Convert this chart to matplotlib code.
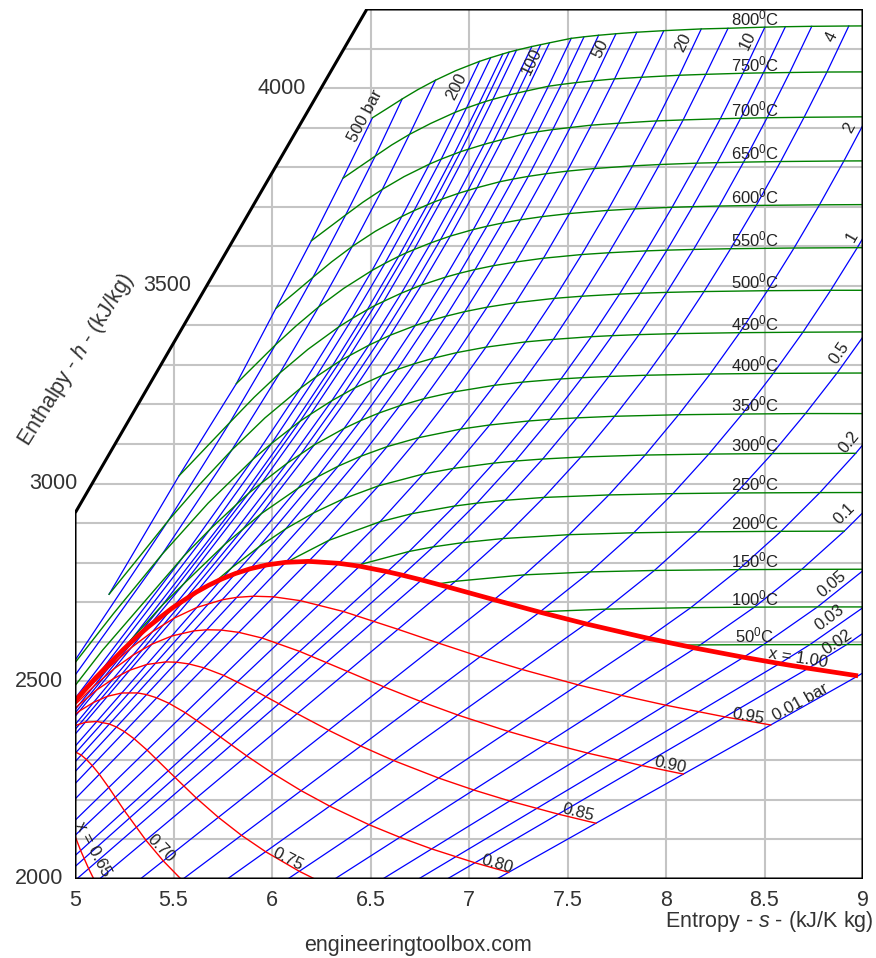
import numpy as np
import matplotlib
matplotlib.use("Agg")
import matplotlib.pyplot as plt
from matplotlib.patches import Polygon

plt.rcParams['font.family'] = ['Liberation Sans', 'DejaVu Sans']
plt.rcParams['mathtext.fontset'] = 'custom'
plt.rcParams['mathtext.rm'] = 'Liberation Sans'
plt.rcParams['mathtext.it'] = 'Liberation Sans:italic'

N = None

# ---------------- data ----------------
TEMPS_C = [50, 100, 150, 200, 250, 300, 350, 400, 450, 500, 550, 600, 650, 700, 750, 800]

# saturation table by pressure (bar): liquid & vapour entropy / enthalpy
P_SAT_BAR = [0.01, 0.02, 0.03, 0.05, 0.1, 0.2, 0.5, 1, 2, 4, 6, 8, 10, 15, 20, 30, 40,
             50, 60, 70, 80, 90, 100, 110, 120, 140, 150, 160, 180, 200]
S_LIQ = [0.1059, 0.2606, 0.3543, 0.4763, 0.6492, 0.8320, 1.0912, 1.3028, 1.5302, 1.7765,
         1.9308, 2.0457, 2.1381, 2.3143, 2.4468, 2.6455, 2.7966, 2.9207, 3.0275, 3.1220,
         3.2077, 3.2866, 3.3603, 3.4287, 3.4970, 3.6241, 3.6848, 3.7463, 3.8722, 4.0146]
H_LIQ = [29.3, 73.4, 101.0, 137.7, 191.8, 251.4, 340.5, 417.4, 504.7, 604.7, 670.4, 721.0,
         762.5, 844.6, 908.5, 1008.3, 1087.4, 1154.5, 1213.9, 1267.5, 1317.1, 1363.7,
         1408.1, 1449.9, 1491.8, 1571.9, 1610.3, 1650.4, 1734.8, 1826.6]
S_VAP = [8.9749, 8.7226, 8.5764, 8.3939, 8.1488, 7.9072, 7.5931, 7.3589, 7.1270, 6.8955,
         6.7593, 6.6616, 6.5850, 6.4448, 6.3390, 6.1856, 6.0696, 5.9737, 5.8902, 5.8148,
         5.7450, 5.6791, 5.6159, 5.5549, 5.4939, 5.3727, 5.3108, 5.2463, 5.1061, 4.9310]
H_VAP = [2513.7, 2532.9, 2544.8, 2560.7, 2583.9, 2608.9, 2645.2, 2674.9, 2706.3, 2738.1,
         2756.2, 2768.3, 2777.1, 2791.0, 2798.3, 2803.2, 2800.8, 2794.2, 2784.6, 2772.6,
         2758.7, 2742.9, 2725.5, 2705.5, 2685.4, 2638.1, 2610.8, 2580.8, 2509.5, 2411.4]

# saturated vapour at the isotherm temperatures
T_SAT_C = [50, 100, 150, 200, 250, 300, 350]
S_VAP_T = [8.0748, 7.3542, 6.8371, 6.4302, 6.0730, 5.7059, 5.2112]
H_VAP_T = [2591.3, 2675.6, 2745.9, 2792.0, 2801.0, 2749.0, 2563.6]

# superheated region: isobars (rows) x isotherms (columns)
P_BAR = [0.01, 0.02, 0.03, 0.05, 0.1, 0.2, 0.5, 1, 2, 4, 6, 8, 10, 15, 20, 30, 40, 50, 60,
         70, 80, 100, 110, 120, 140, 150, 160, 180, 200, 300, 400, 500]
S_SH = [
    [9.237, N, N, N, N, N, N, N, N, N, N, N, N, N, N, N],
    [8.917, 9.192, N, N, N, N, N, N, N, N, N, N, N, N, N, N],
    [8.730, 9.005, N, N, N, N, N, N, N, N, N, N, N, N, N, N],
    [8.494, 8.769, 9.009, N, N, N, N, N, N, N, N, N, N, N, N, N],
    [8.174, 8.449, 8.689, 8.905, 9.102, N, N, N, N, N, N, N, N, N, N, N],
    [N, 8.126, 8.368, 8.584, 8.781, 8.963, 9.131, 9.291, N, N, N, N, N, N, N, N],
    [N, 7.695, 7.941, 8.159, 8.357, 8.539, 8.708, 8.868, 9.018, 9.159, 9.293, N, N, N, N, N],
    [N, 7.361, 7.615, 7.836, 8.035, 8.217, 8.387, 8.545, 8.695, 8.836, 8.971, 9.100, 9.224, N, N, N],
    [N, N, 7.281, 7.508, 7.710, 7.894, 8.064, 8.224, 8.374, 8.515, 8.650, 8.779, 8.903, 9.022, 9.137, 9.248],
    [N, N, 6.931, 7.172, 7.380, 7.568, 7.739, 7.900, 8.052, 8.193, 8.328, 8.458, 8.582, 8.701, 8.817, 8.928],
    [N, N, N, 6.968, 7.183, 7.374, 7.548, 7.710, 7.863, 8.004, 8.140, 8.270, 8.394, 8.513, 8.628, 8.740],
    [N, N, N, 6.818, 7.040, 7.235, 7.411, 7.574, 7.727, 7.869, 8.005, 8.135, 8.260, 8.379, 8.494, 8.606],
    [N, N, N, 6.696, 6.927, 7.125, 7.303, 7.467, 7.621, 7.764, 7.900, 8.031, 8.156, 8.276, 8.391, 8.502],
    [N, N, N, 6.454, 6.711, 6.920, 7.105, 7.272, 7.428, 7.573, 7.710, 7.842, 7.967, 8.087, 8.202, 8.315],
    [N, N, N, N, 6.548, 6.768, 6.958, 7.129, 7.287, 7.434, 7.572, 7.704, 7.830, 7.952, 8.068, 8.179],
    [N, N, N, N, 6.289, 6.541, 6.745, 6.924, 7.086, 7.236, 7.378, 7.510, 7.637, 7.759, 7.876, 7.989],
    [N, N, N, N, N, 6.364, 6.584, 6.771, 6.939, 7.092, 7.236, 7.371, 7.499, 7.621, 7.739, 7.852],
    [N, N, N, N, N, 6.211, 6.452, 6.648, 6.821, 6.978, 7.124, 7.261, 7.391, 7.514, 7.632, 7.746],
    [N, N, N, N, N, 6.070, 6.336, 6.543, 6.722, 6.883, 7.031, 7.169, 7.301, 7.425, 7.544, 7.658],
    [N, N, N, N, N, 5.934, 6.231, 6.450, 6.635, 6.800, 6.951, 7.091, 7.224, 7.349, 7.469, 7.584],
    [N, N, N, N, N, 5.794, 6.132, 6.366, 6.558, 6.727, 6.880, 7.022, 7.156, 7.282, 7.403, 7.519],
    [N, N, N, N, N, N, 5.946, 6.214, 6.422, 6.600, 6.759, 6.905, 7.041, 7.169, 7.291, 7.409],
    [N, N, N, N, N, N, 5.853, 6.146, 6.363, 6.546, 6.708, 6.856, 6.994, 7.123, 7.246, 7.364],
    [N, N, N, N, N, N, 5.760, 6.077, 6.304, 6.492, 6.657, 6.807, 6.946, 7.077, 7.201, 7.319],
    [N, N, N, N, N, N, 5.552, 5.947, 6.196, 6.395, 6.567, 6.721, 6.863, 6.996, 7.121, 7.241],
    [N, N, N, N, N, N, 5.444, 5.882, 6.143, 6.348, 6.523, 6.680, 6.823, 6.957, 7.083, 7.204],
    [N, N, N, N, N, N, 5.290, 5.818, 6.095, 6.306, 6.484, 6.643, 6.789, 6.924, 7.051, 7.172],
    [N, N, N, N, N, N, N, 5.687, 5.998, 6.223, 6.409, 6.573, 6.721, 6.859, 6.987, 7.110],
    [N, N, N, N, N, N, N, 5.553, 5.904, 6.145, 6.339, 6.508, 6.659, 6.799, 6.929, 7.053],
    [N, N, N, N, N, N, N, 4.476, 5.442, 5.796, 6.040, 6.237, 6.407, 6.560, 6.698, 6.830],
    [N, N, N, N, N, N, N, 4.115, 4.945, 5.474, 5.786, 6.017, 6.208, 6.374, 6.524, 6.661],
    [N, N, N, N, N, N, N, N, N, 5.173, 5.528, 5.819, 6.020, 6.200, 6.360, 6.510],
]
H_SH = [
    [2592.8, N, N, N, N, N, N, N, N, N, N, N, N, N, N, N],
    [2592.7, 2688.0, N, N, N, N, N, N, N, N, N, N, N, N, N, N],
    [2592.6, 2688.0, N, N, N, N, N, N, N, N, N, N, N, N, N, N],
    [2592.5, 2688.0, 2783.3, N, N, N, N, N, N, N, N, N, N, N, N, N],
    [2592.0, 2687.5, 2783.0, 2879.6, 2977.4, N, N, N, N, N, N, N, N, N, N, N],
    [N, 2686.2, 2782.3, 2879.2, 2977.1, 3076.5, 3176.8, 3279.8, N, N, N, N, N, N, N, N],
    [N, 2682.4, 2780.2, 2877.8, 2976.2, 3075.8, 3177.0, 3279.3, 3383.5, 3488.7, 3596.8, N, N, N, N, N],
    [N, 2675.8, 2776.6, 2875.5, 2974.5, 3074.5, 3175.8, 3278.6, 3382.7, 3488.7, 3596.4, 3705.6, 3816.4, N, N, N],
    [N, N, 2769.1, 2870.7, 2971.2, 3072.1, 3174.0, 3277.0, 3381.5, 3487.7, 3595.6, 3704.8, 3815.7, 3927.4, 4041.2, 4158.0],
    [N, N, 2752.8, 2860.9, 2964.9, 3067.1, 3170.1, 3273.9, 3379.1, 3485.5, 3593.8, 3703.3, 3814.3, 3926.2, 4040.6, 4157.0],
    [N, N, N, 2850.6, 2957.6, 3062.0, 3166.1, 3270.8, 3376.6, 3483.4, 3592.0, 3701.7, 3812.8, 3925.0, 4039.4, 4156.2],
    [N, N, N, 2839.8, 2950.4, 3056.9, 3162.2, 3267.7, 3374.0, 3481.3, 3590.2, 3700.1, 3811.5, 3923.7, 4038.5, 4155.2],
    [N, N, N, 2828.3, 2943.1, 3051.6, 3158.2, 3264.5, 3371.4, 3479.1, 3588.4, 3698.6, 3810.2, 3922.5, 4037.5, 4154.1],
    [N, N, N, 2796.0, 2923.9, 3038.2, 3148.1, 3256.5, 3364.5, 3473.7, 3583.6, 3694.6, 3806.7, 3919.5, 4034.8, 4151.3],
    [N, N, N, N, 2903.3, 3024.2, 3137.7, 3248.4, 3358.2, 3468.3, 3579.1, 3690.7, 3803.3, 3917.0, 4032.5, 4149.6],
    [N, N, N, N, 2856.5, 2994.3, 3116.1, 3231.7, 3344.9, 3457.2, 3569.8, 3682.8, 3796.6, 3911.2, 4027.4, 4145.2],
    [N, N, N, N, N, 2961.7, 3093.3, 3214.5, 3331.2, 3446.0, 3560.1, 3674.9, 3790.0, 3906.3, 4023.3, 4141.3],
    [N, N, N, N, N, 2925.7, 3069.3, 3196.7, 3317.2, 3434.7, 3550.9, 3666.9, 3783.4, 3900.3, 4018.4, 4137.4],
    [N, N, N, N, N, 2885.6, 3043.9, 3178.3, 3302.9, 3423.1, 3541.3, 3658.8, 3776.8, 3895.1, 4013.9, 4133.6],
    [N, N, N, N, N, 2839.9, 3016.9, 3159.2, 3288.3, 3411.4, 3531.6, 3650.6, 3770.0, 3889.6, 4009.3, 4129.7],
    [N, N, N, N, N, 2786.5, 2988.1, 3139.4, 3273.3, 3399.5, 3521.8, 3642.4, 3763.1, 3884.2, 4004.7, 4125.8],
    [N, N, N, N, N, N, 2924.0, 3097.5, 3242.4, 3375.1, 3502.0, 3625.8, 3748.1, 3870.0, 3992.6, 4114.5],
    [N, N, N, N, N, N, 2885.0, 3074.5, 3226.0, 3362.5, 3491.8, 3617.3, 3741.0, 3863.9, 3987.5, 4109.8],
    [N, N, N, N, N, N, 2846.1, 3051.5, 3209.7, 3349.9, 3481.6, 3608.8, 3733.8, 3857.7, 3982.3, 4105.1],
    [N, N, N, N, N, N, 2746.4, 3001.4, 3175.3, 3323.9, 3460.8, 3591.7, 3719.3, 3845.3, 3971.5, 4095.8],
    [N, N, N, N, N, N, 2692.9, 2975.7, 3157.9, 3310.8, 3450.4, 3583.1, 3712.1, 3839.1, 3966.0, 4091.1],
    [N, N, N, N, N, N, 2608.0, 2946.4, 3139.3, 3297.2, 3439.7, 3574.4, 3704.8, 3832.9, 3960.6, 4086.4],
    [N, N, N, N, N, N, N, 2885.3, 3101.5, 3269.6, 3418.1, 3556.8, 3690.1, 3820.4, 3949.6, 4076.9],
    [N, N, N, N, N, N, N, 2816.9, 3061.7, 3241.2, 3396.2, 3539.0, 3675.3, 3807.8, 3938.6, 4067.5],
    [N, N, N, N, N, N, N, 2152.8, 2821.0, 3084.8, 3279.7, 3446.7, 3599.4, 3743.9, 3883.0, 4020.0],
    [N, N, N, N, N, N, N, 1931.4, 2511.8, 2906.5, 3154.4, 3350.4, 3521.6, 3679.2, 3828.0, 3972.6],
    [N, N, N, N, N, N, N, N, N, 2720.1, 3019.5, 3252.6, 3443.0, 3614.0, 3772.0, 3925.0],
]

# extra isotherm points at pressures without a drawn isobar (250, 350, 450 bar)
ISO_EXTRA_P_BAR = [250, 350, 450]
ISO_EXTRA_S = [
    [N, N, N, N, N, N, N, 5.140, 5.676, 5.964, 6.182, 6.364, 6.524, 6.670, 6.805, 6.932],
    [N, N, N, N, N, N, N, 4.214, 5.195, 5.633, 5.909, 6.123, 6.303, 6.462, 6.607, 6.741],
    [N, N, N, N, N, N, N, N, 4.770, 5.324, 5.657, 5.918, 6.114, 6.287, 6.442, 6.586],
]
ISO_EXTRA_H = [
    [N, N, N, N, N, N, N, 2578.7, 2950.6, 3165.9, 3339.2, 3493.5, 3637.7, 3776.0, 3910.5, 4043.9],
    [N, N, N, N, N, N, N, 1988.6, 2671.0, 2997.9, 3218.0, 3398.9, 3560.7, 3711.6, 3856.0, 3996.3],
    [N, N, N, N, N, N, N, N, 2398.0, 2813.0, 3087.0, 3301.5, 3482.0, 3646.6, 3800.0, 3948.8],
]

# constant-quality (dryness fraction) lines in the wet region
Q_S = [
    [8.5315, 8.2995, 7.9980, 7.7738, 7.5534, 7.2680, 7.0561, 6.8472, 6.6396, 6.3627, 6.1444, 6.0086, 5.9060, 5.8211, 5.7471, 5.6181, 5.5031, 5.3941, 5.2853, 5.1713, 5.0444, 4.8852],
    [8.0880, 7.8764, 7.6021, 7.3988, 7.1997, 6.9429, 6.7533, 6.5673, 6.3836, 6.1403, 5.9498, 5.8316, 5.7423, 5.6684, 5.6039, 5.4913, 5.3903, 5.2942, 5.1978, 5.0963, 4.9827],
    [7.6446, 7.4533, 7.2063, 7.0239, 6.8459, 6.6178, 6.4505, 6.2875, 6.1277, 5.9180, 5.7552, 5.6546, 5.5787, 5.5158, 5.4608, 5.3644, 5.2776, 5.1944, 5.1104, 5.0213, 4.9210],
    [7.2011, 7.0302, 6.8104, 6.6489, 6.4922, 6.2927, 6.1477, 6.0076, 5.8717, 5.6956, 5.5606, 5.4776, 5.4150, 5.3631, 5.3177, 5.2375, 5.1648, 5.0945, 5.0230, 4.9463],
    [6.7577, 6.6071, 6.4145, 6.2739, 6.1384, 5.9676, 5.8449, 5.7278, 5.6158, 5.4733, 5.3660, 5.3006, 5.2514, 5.2105, 5.1745, 5.1107, 5.0520, 4.9947],
    [5.8989, 5.7846, 5.6425, 5.5421, 5.4480, 5.3598, 5.2509, 5.1713, 5.1236, 5.0877, 5.0578, 5.0314, 4.9838],
    [5.2393, 5.1681, 5.1039, 5.0693, 5.0286, 4.9991],
]
Q_H = [
    [2389.5, 2409.9, 2439.6, 2464.3, 2491.0, 2530.0, 2562.0, 2596.2, 2631.4, 2676.4, 2703.8, 2713.5, 2715.1, 2712.2, 2706.1, 2686.6, 2659.6, 2625.7, 2584.8, 2534.3, 2470.8, 2382.2],
    [2265.3, 2287.0, 2318.4, 2344.7, 2373.2, 2414.7, 2449.2, 2486.1, 2524.8, 2575.6, 2609.3, 2623.7, 2629.5, 2630.2, 2627.5, 2614.5, 2593.8, 2566.0, 2531.5, 2487.8, 2432.0],
    [2141.0, 2164.0, 2197.3, 2225.1, 2255.3, 2299.5, 2336.3, 2376.1, 2418.1, 2474.9, 2514.8, 2534.0, 2543.8, 2548.2, 2549.0, 2542.5, 2527.9, 2506.4, 2478.2, 2441.2, 2393.3],
    [2016.8, 2041.0, 2076.1, 2105.5, 2137.4, 2184.3, 2223.4, 2266.0, 2311.4, 2374.2, 2420.3, 2444.2, 2458.1, 2466.3, 2470.5, 2470.4, 2462.0, 2446.7, 2424.9, 2394.7],
    [1892.6, 1918.0, 1955.0, 1985.9, 2019.5, 2069.0, 2110.5, 2155.9, 2204.8, 2273.5, 2325.9, 2354.5, 2372.5, 2384.3, 2391.9, 2398.3, 2396.2, 2387.0],
    [1866.3, 1901.7, 1953.8, 1997.7, 2045.8, 2098.1, 2172.7, 2231.4, 2264.7, 2286.8, 2302.3, 2313.4, 2326.2],
    [1884.8, 1935.7, 1991.4, 2026.2, 2072.0, 2109.8],
]

# ---------------- annotation layout (text, s, h, rotation) ----------------
PRESSURE_LABELS = [
    ("500 bar", 6.472, 3929, 62), ("200", 6.934, 4003, 63), ("100", 7.320, 4066, 64),
    ("50", 7.665, 4099, 64), ("20", 8.086, 4116, 64), ("10", 8.416, 4119, 64),
    ("4", 8.843, 4129, 64), ("2", 8.929, 3899, 62), ("1", 8.944, 3623, 60),
    ("0.5", 8.878, 3330, 55), ("0.2", 8.929, 3105, 51), ("0.1", 8.904, 2925, 45),
    ("0.05", 8.843, 2746, 40), ("0.03", 8.832, 2662, 37), ("0.02", 8.868, 2599, 34),
    ("0.01 bar", 8.685, 2448, 29),
]
QUALITY_TEXT_POS = [
    ("x = 1.00", 8.670, 2559, -9), ("0.95", 8.416, 2410, -10), ("0.90", 8.020, 2288, -12),
    ("0.85", 7.553, 2167, -14), ("0.80", 7.142, 2038, -16), ("0.75", 6.081, 2051, -27),
    ("0.70", 5.437, 2078, -46), ("x = 0.65", 5.091, 2076, -62),
]

# ---------------- figure ----------------
W, H = 876, 958
fig = plt.figure(figsize=(W / 100, H / 100), dpi=100)
ax = fig.add_axes([75 / W, 79 / H, 788 / W, 870 / H])
ax.set_xlim(5, 9)
ax.set_ylim(2000, 4200)
ax.axis('off')

S_KINK, H_KINK, S_TOP = 6.482, 2925.0, 4200.0
frame = Polygon([(5, 2000), (9, 2000), (9, 4200), (S_KINK, 4200), (5, H_KINK)], closed=True,
                facecolor='none', edgecolor='black', lw=2.2, zorder=10, joinstyle='miter')
ax.add_patch(frame)

def clipped(lines):
    for ln in lines:
        ln.set_clip_path(frame)

GRID_C = '#c4c4c4'
for sv in np.arange(5.5, 9.0, 0.5):
    clipped(ax.plot([sv, sv], [2000, 4200], color=GRID_C, lw=1.5, zorder=1))
for hv in range(2100, 4200, 100):
    clipped(ax.plot([4.9, 9.0], [hv, hv], color=GRID_C, lw=1.5, zorder=1))

BLUE = '#0000ff'
GREEN = '#008000'
RED = '#ff0000'

# isobars
for i, p in enumerate(P_BAR):
    ss, hh = [], []
    if p in P_SAT_BAR:
        k = P_SAT_BAR.index(p)
        ss += [S_LIQ[k], S_VAP[k]]
        hh += [H_LIQ[k], H_VAP[k]]
    for s, h in zip(S_SH[i], H_SH[i]):
        if s is not None:
            ss.append(s)
            hh.append(h)
    clipped(ax.plot(ss, hh, color=BLUE, lw=0.9, zorder=3))

# isotherms
iso_curves = {}
for j, T in enumerate(TEMPS_C):
    pts = [(S_SH[i][j], H_SH[i][j]) for i in range(len(P_BAR)) if S_SH[i][j] is not None]
    pts += [(ISO_EXTRA_S[i][j], ISO_EXTRA_H[i][j]) for i in range(len(ISO_EXTRA_P_BAR))
            if ISO_EXTRA_S[i][j] is not None]
    if T in T_SAT_C:
        k = T_SAT_C.index(T)
        pts.append((S_VAP_T[k], H_VAP_T[k]))
    pts.sort()
    ss = [a for a, b in pts]
    hh = [b for a, b in pts]
    iso_curves[T] = (ss, hh)
    clipped(ax.plot(ss, hh, color=GREEN, lw=1.0, zorder=4))

# quality lines
for qs, qh in zip(Q_S, Q_H):
    clipped(ax.plot(qs, qh, color=RED, lw=1.0, zorder=5))
# saturated vapour line (x = 1)
clipped(ax.plot(S_VAP, H_VAP, color=RED, lw=3.4, zorder=6, solid_capstyle='butt'))

# temperature labels
for T in TEMPS_C:
    ss, hh = iso_curves[T]
    hv = np.interp(8.45, ss, hh)
    ax.annotate(f"{T}$^0$C", xy=(8.45, hv), xytext=(0, 9), textcoords='offset pixels',
                ha='center', va='center', fontsize=12, color='#222222', zorder=11)

for txt, s, h, rot in PRESSURE_LABELS:
    ax.text(s, h, txt, rotation=rot, rotation_mode='anchor', ha='center', va='center',
            fontsize=12, color='#222222', zorder=11)
for txt, s, h, rot in QUALITY_TEXT_POS:
    ax.text(s, h, txt, rotation=rot, rotation_mode='anchor', ha='center', va='center',
            fontsize=12, color='#222222', zorder=11)

# tick labels
TICK_C = '#333333'
def frame_left(h):
    if h <= H_KINK:
        return 5.0
    return 5.0 + (h - H_KINK) / (S_TOP - H_KINK) * (S_KINK - 5.0)

for hv in [2000, 2500, 3000, 3500, 4000]:
    off = -12 if hv <= H_KINK else -15
    ax.annotate(str(hv), xy=(frame_left(hv), hv), xytext=(off, 0), textcoords='offset pixels',
                ha='right', va='center', fontsize=15.5, color=TICK_C, annotation_clip=False)
for sv, lab in zip([5, 5.5, 6, 6.5, 7, 7.5, 8, 8.5, 9],
                   ["5", "5.5", "6", "6.5", "7", "7.5", "8", "8.5", "9"]):
    ax.annotate(lab, xy=(sv, 2000), xytext=(0, -21), textcoords='offset pixels',
                ha='center', va='center', fontsize=15.5, color=TICK_C, annotation_clip=False)

fig.text(873 / W, 1 - 922 / H, "Entropy - $\\mathit{s}$ - (kJ/K kg)", ha='right', va='center',
         fontsize=15.5, color=TICK_C)
fig.text(76 / W, 1 - 360 / H, "Enthalpy - $\\mathit{h}$ - (kJ/kg)", ha='center', va='center',
         rotation=58, fontsize=15.5, color=TICK_C)
fig.text(418 / W, 1 - 945 / H, "engineeringtoolbox.com", ha='center', va='center',
         fontsize=15.5, color=TICK_C)

fig.savefig("out.png", dpi=100)
